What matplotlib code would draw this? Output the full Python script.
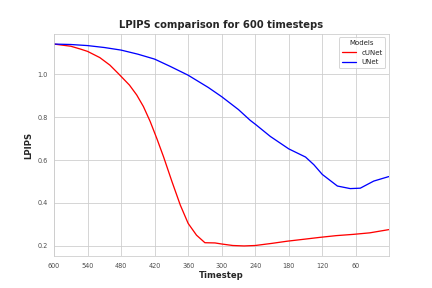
import matplotlib
matplotlib.use("Agg")
import matplotlib.pyplot as plt
import seaborn as sns

# ================= 数据 =================
cunet_t = [600, 570, 553, 540, 518, 500, 485, 465, 452, 440, 428, 416, 404, 389,
           374, 360, 345, 330, 312, 300, 280, 260, 240, 210, 183, 150, 124, 95,
           64, 35, 1]
cunet_v = [1.14, 1.13, 1.117, 1.106, 1.077, 1.042, 1.003, 0.949, 0.903, 0.849,
           0.78, 0.70, 0.615, 0.50, 0.39, 0.305, 0.25, 0.215, 0.214, 0.209,
           0.202, 0.200, 0.202, 0.212, 0.222, 0.232, 0.240, 0.248, 0.254, 0.261,
           0.276]

unet_t = [600, 570, 540, 510, 480, 450, 420, 392, 360, 324, 300, 270, 249, 239,
          213, 180, 150, 135, 120, 93, 70, 52, 28, 1]
unet_v = [1.14, 1.138, 1.133, 1.124, 1.112, 1.093, 1.07, 1.036, 0.995, 0.938,
          0.895, 0.835, 0.785, 0.765, 0.71, 0.652, 0.614, 0.578, 0.533, 0.479,
          0.467, 0.469, 0.502, 0.523]

x_ticks = list(range(600, 0, -60))

# ================= 绘图 =================
sns.set_style("whitegrid")
plt.rcParams['font.family'] = ['DejaVu Sans']

fig, ax = plt.subplots(figsize=(6, 4), dpi=72)
fig.subplots_adjust(left=0.125, right=0.9, top=0.882, bottom=0.111)

ax.plot(cunet_t, cunet_v, color='red', linewidth=1.3, label='cUNet')
ax.plot(unet_t, unet_v, color='blue', linewidth=1.3, label='UNet')

ax.set_xlim(600, 1)
ax.set_xticks(x_ticks)
ax.tick_params(labelsize=6.5, colors='.3', pad=3)

ax.set_title('LPIPS comparison for 600 timesteps', fontsize=10, fontweight='bold', color='.15')
ax.set_xlabel('Timestep', fontsize=8.5, fontweight='bold', color='.15', labelpad=2)
ax.set_ylabel('LPIPS', fontsize=8.5, fontweight='bold', color='.15', labelpad=4)

leg = ax.legend(title='Models', loc='upper right', fontsize=7, title_fontsize=7)

fig.savefig('out.png', dpi=72)
